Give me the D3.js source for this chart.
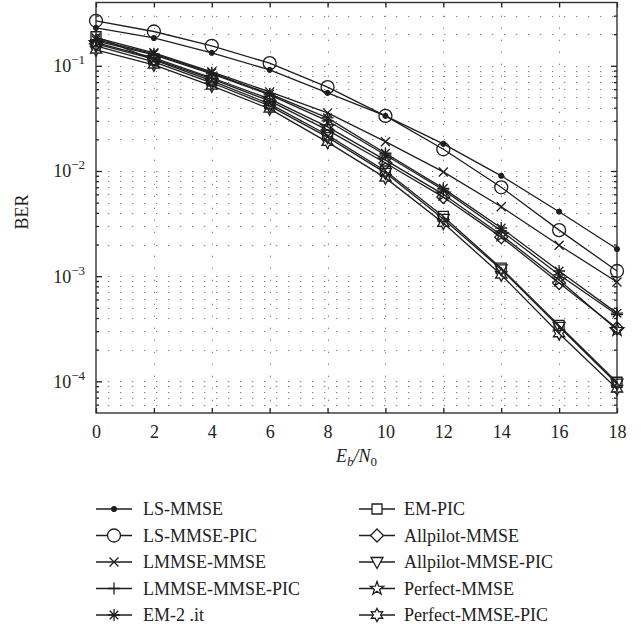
<!DOCTYPE html>
<html><head><meta charset="utf-8">
<script src="https://cdn.jsdelivr.net/npm/d3@7"></script>
<style>
html,body{margin:0;padding:0;background:#fff;}
svg{display:block;}
text{font-family:"Liberation Serif","Times New Roman",serif;fill:#222;}
</style></head>
<body>
<svg id="chart" width="641" height="630"></svg>
<script>
// ---------- data ----------
const ebn0 = [0, 2, 4, 6, 8, 10, 12, 14, 16, 18];
const xTicks = [0, 2, 4, 6, 8, 10, 12, 14, 16, 18];
const yMajorTicks = [1e-1, 1e-2, 1e-3, 1e-4];
const yTickExponents = ["−1", "−2", "−3", "−4"];
const seriesNames = ["LS-MMSE", "LS-MMSE-PIC", "LMMSE-MMSE", "LMMSE-MMSE-PIC", "EM-2 .it",
                     "EM-PIC", "Allpilot-MMSE", "Allpilot-MMSE-PIC", "Perfect-MMSE", "Perfect-MMSE-PIC"];
const seriesMarkers = ["dot", "circle", "x", "plus", "asterisk", "square", "diamond", "triangleDown", "pentagram", "hexagram"];
const lsMmse        = [0.23, 0.184, 0.133, 0.0916, 0.0553, 0.0334, 0.0181, 0.0090, 0.0041, 0.00181];
const lsMmsePic     = [0.268, 0.212, 0.155, 0.106, 0.0627, 0.0334, 0.0161, 0.0070, 0.00274, 0.00112];
const lmmseMmse     = [0.185, 0.133, 0.0877, 0.0565, 0.0357, 0.019, 0.0098, 0.00457, 0.00197, 0.00088];
const lmmseMmsePic  = [0.173, 0.127, 0.084, 0.053, 0.030, 0.0142, 0.0066, 0.0027, 0.00103, 0.00043];
const em2it         = [0.177, 0.130, 0.0858, 0.054, 0.032, 0.01475, 0.00684, 0.00287, 0.00112, 0.000445];
const emPic         = [0.189, 0.114, 0.072, 0.0435, 0.022, 0.0100, 0.0037, 0.00119, 0.00034, 0.000098];
const allpilotMmse  = [0.162, 0.116, 0.075, 0.0464, 0.0245, 0.0119, 0.00565, 0.00235, 0.00086, 0.00032];
const allpilotPic   = [0.155, 0.109, 0.069, 0.0416, 0.021, 0.0096, 0.0035, 0.00116, 0.00033, 0.000095];
const perfectMmse   = [0.166, 0.119, 0.077, 0.0485, 0.0263, 0.0127, 0.0060, 0.00246, 0.00092, 0.00031];
const perfectPic    = [0.142, 0.102, 0.0645, 0.039, 0.0188, 0.0086, 0.0032, 0.00103, 0.000285, 0.000085];
const seriesValues = [lsMmse, lsMmsePic, lmmseMmse, lmmseMmsePic, em2it, emPic, allpilotMmse, allpilotPic, perfectMmse, perfectPic];

// ---------- layout ----------
const svg = d3.select("#chart");
const L = 96, T = 2.5, R = 617, B = 413;
const x = d3.scaleLinear().domain([0, 18]).range([L, R]);
const y = d3.scaleLog().domain([5e-5, 0.4]).range([B, T]);
const ink = "#1e1e1e";
const sw = 1.3;

const yGridVals = [];
for (let e = -5; e <= -1; e++) for (let m = 1; m <= 9; m++) {
  const v = m * Math.pow(10, e);
  if (v > 5e-5 * 1.0001 && v < 0.4 * 0.9999) yGridVals.push(v);
}

// ---------- grid ----------
const grid = svg.append("g").attr("stroke", "#808080").attr("stroke-width", 1)
  .attr("stroke-dasharray", "1.3,10.7").attr("fill", "none");
grid.selectAll("line.h").data(yGridVals).join("line").attr("class", "h")
  .attr("x1", L + 12).attr("x2", R).attr("y1", d => Math.round(y(d)) + 0.5).attr("y2", d => Math.round(y(d)) + 0.5);
grid.selectAll("line.v").data(xTicks.slice(1, -1)).join("line").attr("class", "v")
  .attr("y1", B).attr("y2", T).attr("x1", d => Math.round(x(d)) + 0.5).attr("x2", d => Math.round(x(d)) + 0.5);

// ---------- axes ----------
const axBottom = svg.append("g").attr("transform", `translate(0,${B})`)
  .call(d3.axisBottom(x).tickValues(xTicks).tickSizeInner(-5).tickSizeOuter(0).tickPadding(12));
const axTop = svg.append("g").attr("transform", `translate(0,${T})`)
  .call(d3.axisTop(x).tickValues(xTicks).tickSizeInner(-5).tickSizeOuter(0).tickFormat(""));
const yMinor = yGridVals.filter(v => !yMajorTicks.some(t => Math.abs(t - v) / t < 1e-6));
const axLeftMinor = svg.append("g").attr("transform", `translate(${L},0)`)
  .call(d3.axisLeft(y).tickValues(yMinor).tickSizeInner(-3).tickSizeOuter(0).tickFormat(""));
const axRightMinor = svg.append("g").attr("transform", `translate(${R},0)`)
  .call(d3.axisRight(y).tickValues(yMinor).tickSizeInner(-3).tickSizeOuter(0).tickFormat(""));
const axLeft = svg.append("g").attr("transform", `translate(${L},0)`)
  .call(d3.axisLeft(y).tickValues(yMajorTicks).tickSizeInner(-6).tickSizeOuter(0).tickFormat(""));
const axRight = svg.append("g").attr("transform", `translate(${R},0)`)
  .call(d3.axisRight(y).tickValues(yMajorTicks).tickSizeInner(-6).tickSizeOuter(0).tickFormat(""));

[axBottom, axTop, axLeftMinor, axRightMinor, axLeft, axRight].forEach(g => {
  g.select(".domain").remove();
  g.selectAll(".tick line").attr("stroke", ink).attr("stroke-width", 1.3);
});
axBottom.selectAll(".tick text").attr("font-size", 18).attr("fill", ink)
  .attr("font-family", "'Liberation Serif', serif");

axLeft.selectAll(".tick").each(function(d, i) {
  const t = d3.select(this).append("text").attr("x", -11).attr("y", 6)
    .attr("text-anchor", "end").attr("font-size", 18).attr("fill", ink);
  t.append("tspan").text("10");
  t.append("tspan").attr("dy", -8).attr("font-size", 13).text(yTickExponents[i]);
});

svg.append("rect").attr("x", L).attr("y", T).attr("width", R - L).attr("height", B - T)
  .attr("fill", "none").attr("stroke", "#333").attr("stroke-width", 1.4);

// ---------- markers ----------
function starPath(n, ro, ri) {
  const pts = [];
  for (let k = 0; k < 2 * n; k++) {
    const r = k % 2 === 0 ? ro : ri;
    const a = -Math.PI / 2 + k * Math.PI / n;
    pts.push([r * Math.cos(a), r * Math.sin(a)]);
  }
  return "M" + pts.map(p => p[0].toFixed(2) + "," + p[1].toFixed(2)).join("L") + "Z";
}
const markerPaths = {
  dot: "M-2.4,0A2.4,2.4 0 1,0 2.4,0A2.4,2.4 0 1,0 -2.4,0Z",
  circle: "M-6.5,0A6.5,6.5 0 1,0 6.5,0A6.5,6.5 0 1,0 -6.5,0Z",
  x: "M-4.5,-4.5L4.5,4.5M-4.5,4.5L4.5,-4.5",
  plus: "M-6,0L6,0M0,-6L0,6",
  asterisk: "M-6,0L6,0M0,-6L0,6M-4.3,-4.3L4.3,4.3M-4.3,4.3L4.3,-4.3",
  square: "M-5,-5L5,-5L5,5L-5,5Z",
  diamond: "M0,-6.5L6.5,0L0,6.5L-6.5,0Z",
  triangleDown: "M-6,-4.5L6,-4.5L0,6.5Z",
  pentagram: starPath(5, 7, 2.8),
  hexagram: starPath(6, 6.5, 3.6)
};

// ---------- series ----------
const line = d3.line().x((d, i) => x(ebn0[i])).y(d => y(d));
const plot = svg.append("g");
seriesValues.forEach((vals) => {
  plot.append("path").attr("d", line(vals)).attr("fill", "none")
    .attr("stroke", ink).attr("stroke-width", sw);
});
seriesValues.forEach((vals, s) => {
  const mk = seriesMarkers[s];
  plot.selectAll(null).data(vals).join("path")
    .attr("transform", (d, i) => `translate(${x(ebn0[i])},${y(d)})`)
    .attr("d", markerPaths[mk])
    .attr("fill", mk === "dot" ? ink : "none")
    .attr("stroke", ink).attr("stroke-width", sw);
});

// ---------- labels ----------
svg.append("text").attr("transform", "translate(28,212) rotate(-90)")
  .attr("text-anchor", "middle").attr("font-size", 18).attr("fill", ink).text("BER");
const xl = svg.append("text").attr("x", (L + R) / 2).attr("y", 462)
  .attr("text-anchor", "middle").attr("font-size", 18).attr("fill", ink).attr("font-style", "italic");
xl.append("tspan").text("E");
xl.append("tspan").attr("font-size", 13).attr("dy", 4).text("b");
xl.append("tspan").attr("dy", -4).text("/N");
xl.append("tspan").attr("font-size", 13).attr("dy", 4).attr("font-style", "normal").text("0");

// ---------- legend ----------
const legRows = 5, rowH = 26.5, legTop = 509;
const legCols = [{lx1: 96, lx2: 132, tx: 143}, {lx1: 359, lx2: 395, tx: 404}];
seriesNames.forEach((name, s) => {
  const c = legCols[Math.floor(s / legRows)];
  const ry = legTop + (s % legRows) * rowH;
  const g = svg.append("g");
  g.append("line").attr("x1", c.lx1).attr("x2", c.lx2).attr("y1", ry).attr("y2", ry)
    .attr("stroke", ink).attr("stroke-width", sw);
  const mk = seriesMarkers[s];
  g.append("path").attr("transform", `translate(${(c.lx1 + c.lx2) / 2},${ry})`)
    .attr("d", markerPaths[mk]).attr("fill", mk === "dot" ? ink : "#fff")
    .attr("stroke", ink).attr("stroke-width", sw);
  g.append("text").attr("x", c.tx).attr("y", ry + 6).attr("font-size", 18)
    .attr("fill", ink).text(name);
});
</script>
</body></html>
